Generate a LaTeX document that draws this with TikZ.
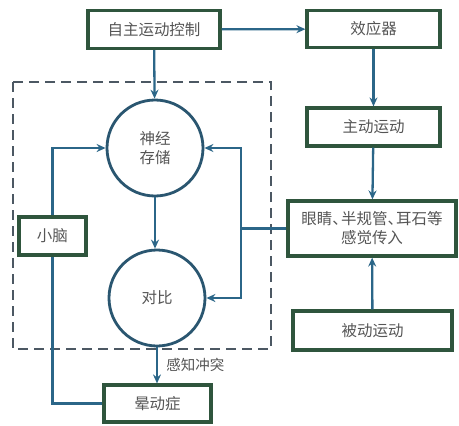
\documentclass[tikz,border=0pt]{standalone}
\usepackage{fontspec}
\newfontfamily\cjk{Noto Sans CJK SC}
\usetikzlibrary{arrows.meta,positioning}
\definecolor{boxgreen}{HTML}{2F553D}
\definecolor{lineblue}{HTML}{2B6688}
\definecolor{circblue}{HTML}{2A5670}
\definecolor{dashgray}{HTML}{4C5863}
\definecolor{txtgray}{HTML}{555555}
\newcommand{\dun}{、\kern-0.45em}

\begin{document}
\begin{tikzpicture}[
  x=1pt,y=-1pt,
  font=\cjk\fontsize{15.5}{19}\selectfont,
  box/.style={draw=boxgreen,line width=3.2pt,align=center,inner sep=2pt,
              text=txtgray},
  circ/.style={circle,draw=circblue,line width=2.8pt,align=center,
               minimum size=96pt,inner sep=0pt,text=txtgray},
  ln/.style={draw=lineblue,line width=2.3pt},
  ar/.style={ln,-{Stealth[length=9pt,width=8pt,inset=3pt]}}]
\useasboundingbox (0,0) rectangle (459,426);
% dashed region
\draw[dashgray,line width=2pt,dash pattern=on 10pt off 6pt] (13,82) rectangle (271,349);
% boxes
\node[box,minimum width=132pt,minimum height=38pt] (ctrl) at (154,29.5) {自主运动控制};
\node[box,minimum width=133pt,minimum height=37pt] (eff) at (373.5,29) {效应器};
\node[box,minimum width=133pt,minimum height=38pt] (act) at (373.5,127) {主动运动};
\node[box,minimum width=168pt,minimum height=55pt] (sens) at (372,228.5) {眼睛\dun 半规管\dun 耳石等\\感觉传入};
\node[box,minimum width=159pt,minimum height=39pt] (pas) at (372.5,330.5) {被动运动};
\node[box,minimum width=67pt,minimum height=38pt] (cbl) at (52.5,236) {小脑};
\node[box,minimum width=107pt,minimum height=37pt] (sick) at (157.5,403.5) {晕动症};
% circles
\node[circ] (mem) at (155,148) {神经\\存储};
\node[circ] (cmp) at (157,298) {对比};
\coordinate (split) at (241,228.5);
% connectors
\draw[ar] (ctrl) -- (mem);
\draw[ar] (ctrl) -- (eff);
\draw[ar] (eff) -- (act);
\draw[ar] (act) -- (sens);
\draw[ar] (pas) -- (sens);
\draw[ln] (sens.west) -- (split);
\draw[ar] (split) |- (mem.east);
\draw[ar] (split) |- (cmp.east);
\draw[ar] (mem) -- (mem |- cmp.north);
\draw[ar] (cbl.north) |- (mem.west);
\draw[ln] (sick.west) -| (cbl.south);
\draw[ar] (cmp.south) -- node[right=5pt,text=txtgray,font=\cjk\fontsize{14.5}{17}\selectfont] (conf) {感知冲突} (cmp.south |- sick.north);
\end{tikzpicture}
\end{document}
